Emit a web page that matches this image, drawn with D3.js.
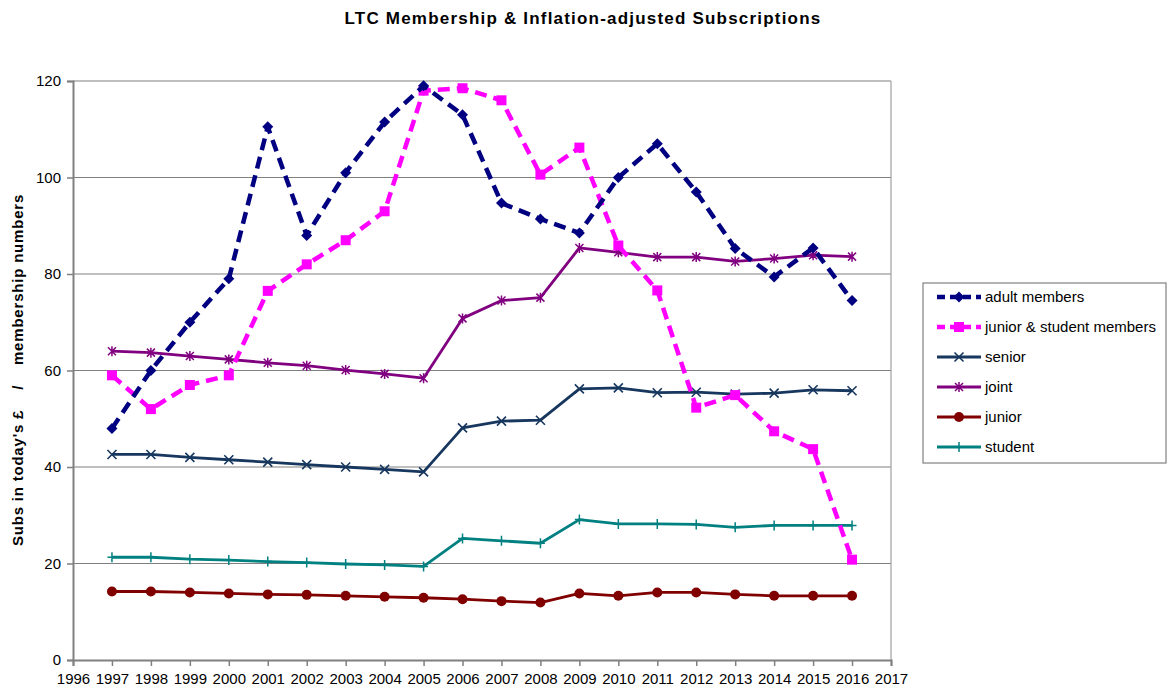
<!DOCTYPE html>
<html>
<head>
<meta charset="utf-8">
<script src="https://cdn.jsdelivr.net/npm/d3@7"></script>
<style>
  body { margin: 0; background: #fff; }
  svg { font-family: "Liberation Sans", Arial, sans-serif; }
</style>
</head>
<body>
<svg id="viz" width="1167" height="689"></svg>
<script>
const years = d3.range(1997, 2017)
const yTicks = [0, 20, 40, 60, 80, 100, 120]
const xTicks = d3.range(1996, 2018)

const adult = [48, 60, 70, 79, 110.5, 88, 101, 111.5, 119, 113, 94.7, 91.4, 88.5, 100, 107, 97, 85.3, 79.4, 85.4, 74.5]
const juniorStudent = [59, 52, 57, 59, 76.5, 82, 87, 93, 118, 118.5, 116, 100.6, 106.2, 85.9, 76.6, 52.3, 54.9, 47.4, 43.7, 20.8]
const senior = [42.6, 42.6, 42, 41.5, 41, 40.5, 40, 39.5, 39, 48.1, 49.5, 49.7, 56.2, 56.4, 55.4, 55.5, 55.1, 55.3, 56, 55.8]
const joint = [64, 63.7, 63, 62.3, 61.6, 61, 60.1, 59.3, 58.4, 70.8, 74.5, 75.1, 85.4, 84.5, 83.5, 83.5, 82.6, 83.2, 83.9, 83.6]
const junior = [14.2, 14.2, 14, 13.8, 13.6, 13.5, 13.3, 13.1, 12.9, 12.6, 12.2, 11.9, 13.8, 13.3, 14, 14, 13.6, 13.3, 13.3, 13.3]
const student = [21.3, 21.3, 20.9, 20.7, 20.4, 20.2, 19.9, 19.7, 19.4, 25.2, 24.7, 24.2, 29.1, 28.2, 28.2, 28.1, 27.5, 27.9, 27.9, 27.9]

const series = [
  { name: 'adult members', values: adult, color: '#000080', dash: '12,7', width: 4.5, marker: 'diamond' },
  { name: 'junior & student members', values: juniorStudent, color: '#ff00ff', dash: '12,7', width: 4.5, marker: 'square' },
  { name: 'senior', values: senior, color: '#17375e', dash: null, width: 2.8, marker: 'x' },
  { name: 'joint', values: joint, color: '#800080', dash: null, width: 2.8, marker: 'star' },
  { name: 'junior', values: junior, color: '#800000', dash: null, width: 2.8, marker: 'circle' },
  { name: 'student', values: student, color: '#008080', dash: null, width: 2.8, marker: 'plus' }
]

const PLOT = { left: 73, top: 81, right: 891, bottom: 660 }
const svg = d3.select('svg#viz')

const x = d3.scaleLinear().domain([1996, 2017]).range([PLOT.left, PLOT.right])
const y = d3.scaleLinear().domain([0, 120]).range([PLOT.bottom, PLOT.top])

// title
svg.append('text')
  .attr('x', 583).attr('y', 24)
  .attr('text-anchor', 'middle')
  .attr('font-size', 17).attr('font-weight', 'bold')
  .attr('letter-spacing', 1.2)
  .text('LTC Membership & Inflation-adjusted Subscriptions')

// y label
svg.append('text')
  .attr('transform', 'translate(23, 370) rotate(-90)')
  .attr('text-anchor', 'middle')
  .attr('font-size', 15).attr('font-weight', 'bold')
  .attr('letter-spacing', 0.8)
  .attr('xml:space', 'preserve')
  .style('white-space', 'pre')
  .text("Subs in today's £    /    membership numbers")

// gridlines
svg.append('g').selectAll('line')
  .data(yTicks.filter(d => d > 0))
  .join('line')
  .attr('x1', PLOT.left).attr('x2', PLOT.right)
  .attr('y1', d => y(d)).attr('y2', d => y(d))
  .attr('stroke', '#808080').attr('stroke-width', 1.2)

// right frame
svg.append('line')
  .attr('x1', PLOT.right).attr('x2', PLOT.right)
  .attr('y1', PLOT.top).attr('y2', PLOT.bottom)
  .attr('stroke', '#a0a0a0').attr('stroke-width', 1.2)

// axes
const yAxis = svg.append('g')
  .attr('transform', `translate(${PLOT.left},0)`)
  .call(d3.axisLeft(y).tickValues(yTicks).tickSize(6).tickPadding(6))
const xAxis = svg.append('g')
  .attr('transform', `translate(0,${PLOT.bottom})`)
  .call(d3.axisBottom(x).tickValues(xTicks).tickFormat(d3.format('d')).tickSize(6).tickPadding(4))

;[yAxis, xAxis].forEach(a => {
  a.select('.domain').attr('stroke', '#808080').attr('stroke-width', 2)
  a.selectAll('.tick line').attr('stroke', '#808080').attr('stroke-width', 1.5)
  a.selectAll('.tick text').attr('font-size', 15).attr('fill', '#000')
    .attr('font-family', '"Liberation Sans", Arial, sans-serif')
})
xAxis.selectAll('.tick text').attr('dy', '0.9em')

function drawMarker(g, type, color) {
  if (type === 'diamond') {
    g.append('path').attr('d', 'M0,-5.5L5.5,0L0,5.5L-5.5,0Z').attr('fill', color)
  } else if (type === 'square') {
    g.append('rect').attr('x', -5).attr('y', -5).attr('width', 10).attr('height', 10).attr('fill', color)
  } else if (type === 'circle') {
    g.append('circle').attr('r', 5).attr('fill', color)
  } else if (type === 'x') {
    g.append('path').attr('d', 'M-4.5,-4.5L4.5,4.5M-4.5,4.5L4.5,-4.5')
      .attr('stroke', color).attr('stroke-width', 1.6).attr('fill', 'none')
  } else if (type === 'star') {
    g.append('path').attr('d', 'M-4,-4L4,4M-4,4L4,-4M0,-5L0,5')
      .attr('stroke', color).attr('stroke-width', 1.5).attr('fill', 'none')
  } else if (type === 'plus') {
    g.append('path').attr('d', 'M0,-5L0,5M-4.5,0L4.5,0')
      .attr('stroke', color).attr('stroke-width', 1.5).attr('fill', 'none')
  }
}

const line = d3.line().x((d, i) => x(years[i])).y(d => y(d))

// draw bottom series first so dashed ones sit on top
const drawOrder = [5, 4, 2, 3, 1, 0]
drawOrder.forEach(k => {
  const s = series[k]
  const g = svg.append('g')
  g.append('path')
    .attr('d', line(s.values))
    .attr('fill', 'none')
    .attr('stroke', s.color)
    .attr('stroke-width', s.width)
    .attr('stroke-dasharray', s.dash)
    .attr('stroke-linejoin', 'round')
  s.values.forEach((v, i) => {
    const m = g.append('g').attr('transform', `translate(${x(years[i])},${y(v)})`)
    drawMarker(m, s.marker, s.color)
  })
})

// legend
const legend = svg.append('g')
legend.append('rect')
  .attr('x', 923).attr('y', 283).attr('width', 243).attr('height', 180)
  .attr('fill', '#fff').attr('stroke', '#808080').attr('stroke-width', 1.2)

series.forEach((s, i) => {
  const ly = 297 + i * 30
  const row = legend.append('g')
  if (s.dash) {
    row.append('path')
      .attr('d', `M937,${ly}L981,${ly}`)
      .attr('stroke', s.color).attr('stroke-width', s.width)
      .attr('stroke-dasharray', '8,5').attr('fill', 'none')
  } else {
    row.append('path')
      .attr('d', `M937,${ly}L981,${ly}`)
      .attr('stroke', s.color).attr('stroke-width', s.width).attr('fill', 'none')
  }
  drawMarker(row.append('g').attr('transform', `translate(959,${ly})`), s.marker, s.color)
  row.append('text')
    .attr('x', 985).attr('y', ly).attr('dy', '0.35em')
    .attr('font-size', 15).text(s.name)
})
</script>
</body>
</html>
